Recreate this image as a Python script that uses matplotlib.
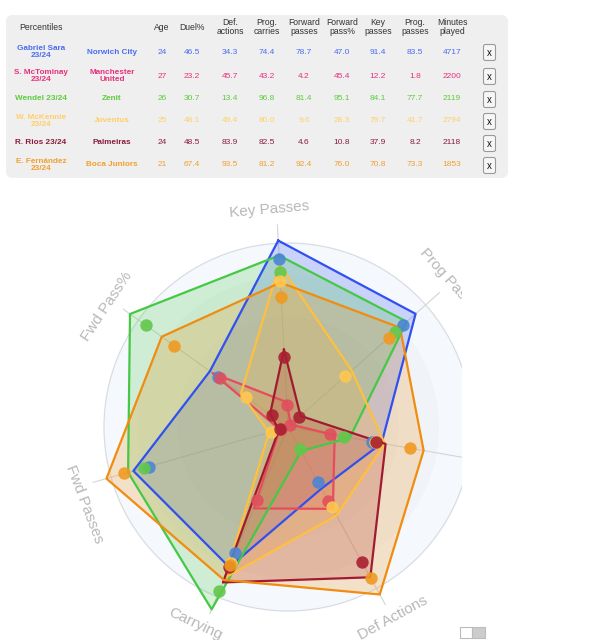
import numpy as np
import matplotlib.pyplot as plt
from matplotlib.patches import FancyBboxPatch, Circle, Rectangle

plt.rcParams['font.family'] = ['Liberation Sans', 'DejaVu Sans']

# ---- data (percentiles) ----
players = ["Gabriel Sara\n23/24", "S. McTominay\n23/24", "Wendel 23/24",
           "W. McKennie\n23/24", "R. Rios 23/24", "E. Fernández\n23/24"]
teams = ["Norwich City", "Manchester\nUnited", "Zenit", "Juventus", "Palmeiras", "Boca Juniors"]
age = [24, 27, 26, 25, 24, 21]
duel = [46.5, 23.2, 30.7, 48.1, 48.5, 67.4]
def_actions = [34.3, 45.7, 13.4, 49.4, 83.9, 93.5]
prog_carries = [74.4, 43.2, 96.8, 80.0, 82.5, 81.2]
fwd_passes = [78.7, 4.2, 81.4, 9.6, 4.6, 92.4]
fwd_pass_pct = [47.0, 45.4, 95.1, 28.3, 10.8, 76.0]
key_passes = [91.4, 12.2, 84.1, 79.7, 37.9, 70.8]
prog_passes = [83.5, 1.8, 77.7, 41.7, 8.2, 73.3]
minutes = [4717, 2200, 2119, 2794, 2118, 1853]

headers = ["Percentiles", "", "Age", "Duel%", "Def.\nactions", "Prog.\ncarries",
           "Forward\npasses", "Forward\npass%", "Key\npasses", "Prog.\npasses", "Minutes\nplayed"]
radar_labels = ["Key Passes", "Prog Passes", "Duel%", "Def Actions",
                "Carrying", "Fwd Passes", "Fwd Pass%"]

text_colors = ["#4a6cf0", "#e8307c", "#5ccc3c", "#ffcf6a", "#8a1c3c", "#f0a030"]
line_colors = ["#3050f0", "#e84c5c", "#46c846", "#ffc040", "#a01a30", "#f08c10"]
dot_colors = ["#4a86d4", "#e0505c", "#62c84a", "#ffc850", "#a82030", "#f09a20"]

W, H = 597, 640
fig = plt.figure(figsize=(W / 100, H / 100), dpi=100)

# ---- table (pixel coordinates) ----
tab = fig.add_axes([0, 0, 1, 1])
tab.set_xlim(0, W)
tab.set_ylim(H, 0)
tab.axis("off")
tab.add_patch(FancyBboxPatch((8, 17), 498, 159, boxstyle="round,pad=2,rounding_size=7",
                             fc="#efefef", ec="none"))

col_x = [41, 112, 162, 192, 230, 267, 304, 342, 378, 415, 452]
for x, h in zip(col_x, headers):
    tab.text(x, 27, h, ha="center", va="center", fontsize=6.2, color="#333333",
             linespacing=1.1)

row_y = [52, 76, 99, 121, 143, 165]
for i, y in enumerate(row_y):
    c = text_colors[i]
    tab.text(col_x[0], y, players[i], ha="center", va="center", fontsize=5.9,
             color=c, fontweight="bold", linespacing=1.1)
    tab.text(col_x[1], y, teams[i], ha="center", va="center", fontsize=5.9,
             color=c, fontweight="bold", linespacing=1.1)
    vals = [age[i], duel[i], def_actions[i], prog_carries[i], fwd_passes[i],
            fwd_pass_pct[i], key_passes[i], prog_passes[i], minutes[i]]
    for j, v in enumerate(vals):
        s = str(v) if isinstance(v, int) else f"{v:.1f}"
        tab.text(col_x[j + 2], y, s, ha="center", va="center", fontsize=6.0, color=c)
    tab.add_patch(FancyBboxPatch((484, y - 7), 11, 15, boxstyle="round,pad=0.5,rounding_size=2",
                                 fc="#f6f6f6", ec="#9a9a9a", lw=0.8))
    tab.text(489.5, y + 1, "x", ha="center", va="center", fontsize=7, color="#111111")

# toggle at the bottom right
tab.add_patch(Rectangle((460, 627), 12, 11, fc="white", ec="#bbbbbb", lw=0.8))
tab.add_patch(Rectangle((472, 627), 13, 11, fc="#cccccc", ec="#bbbbbb", lw=0.8))

# ---- radar ----
cx, cy, R = 288, 427, 184
rot0 = np.radians(-3)  # chart is turned a little counter-clockwise
left, right, top, bottom = 0, 462, 186, 640
ax = fig.add_axes([left / W, 1 - bottom / H, (right - left) / W, (bottom - top) / H])
ax.set_xlim((left - cx) / R, (right - cx) / R)
ax.set_ylim((cy - bottom) / R, (cy - top) / R)
ax.axis("off")

# faint background rings
for r, fc in [(1.0, "#f5f8fc"), (0.82, "#f0f4f8"), (0.6, "#edf1f5")]:
    ax.add_patch(Circle((0, 0), r, fc=fc, ec="none", zorder=0))
ax.add_patch(Circle((0, 0), 1.0, fc="none", ec="#d9dde2", lw=0.9, zorder=1))

n = len(radar_labels)
theta = np.arange(n) * 2 * np.pi / n + rot0
label_nudge = np.radians([-2, 0, 0, 0, 2.5, -5, -2])
for t, dt, lab in zip(theta, label_nudge, radar_labels):
    ax.plot([0, 1.1 * np.sin(t)], [0, 1.1 * np.cos(t)], color="#d4d4d4", lw=0.8, zorder=1)
    tl = t + dt
    deg = np.degrees(tl) % 360
    rot = -deg
    if 90 < deg < 270:
        rot += 180
    ax.text(1.185 * np.sin(tl), 1.185 * np.cos(tl), lab, rotation=rot, rotation_mode="anchor",
            ha="center", va="center", fontsize=11, color="#b8b8b8", clip_on=True)

series = [[key_passes[i], prog_passes[i], duel[i], def_actions[i], prog_carries[i],
           fwd_passes[i], fwd_pass_pct[i]] for i in range(len(players))]

poly_scale = 1.11  # outlines sit a bit further out than the points
for i, vals in enumerate(series):
    v = np.array(vals) / 100
    px = poly_scale * v * np.sin(theta)
    py = poly_scale * v * np.cos(theta)
    ax.fill(px, py, color=line_colors[i], alpha=0.22, lw=0, zorder=2)
    ax.plot(np.append(px, px[0]), np.append(py, py[0]), color=line_colors[i], lw=1.6, zorder=3)

for i, vals in enumerate(series):
    v = np.array(vals) / 100
    ax.scatter(v * np.sin(theta), v * np.cos(theta), s=80, color=dot_colors[i],
               alpha=0.9, lw=0, zorder=4)

fig.savefig("out.png", dpi=100)
